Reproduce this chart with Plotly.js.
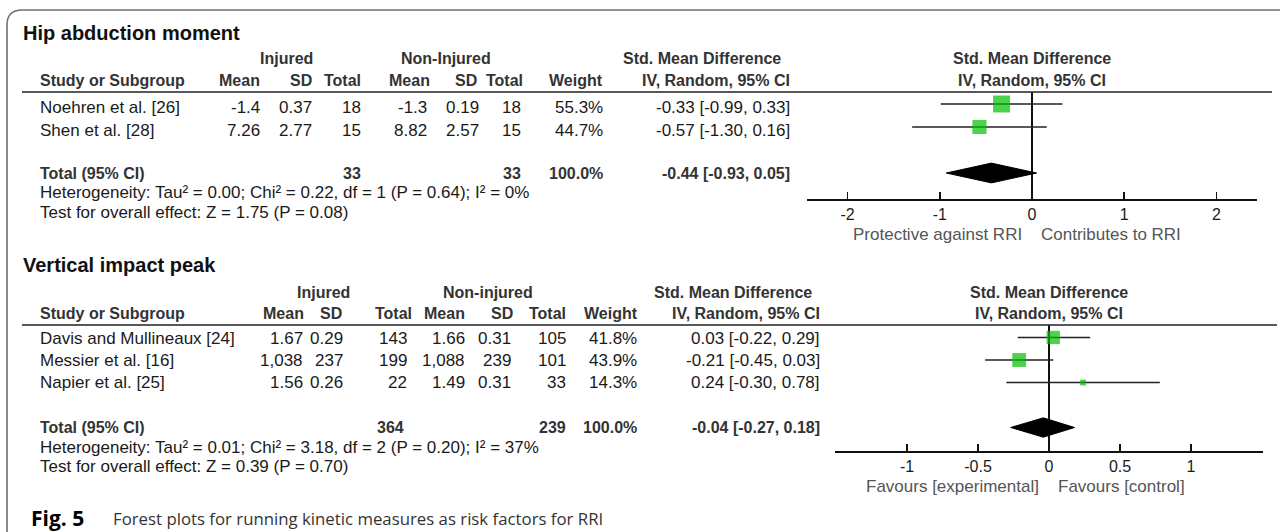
<!DOCTYPE html>
<html>
<head>
<meta charset="utf-8">
<script src="https://cdn.plot.ly/plotly-3.0.1.min.js"></script>
<style>html,body{margin:0;padding:0;background:#fff;}#chart{width:1280px;height:532px;}</style>
</head>
<body>
<div id="chart"></div>
<script>
// ---------- DATA : Hip abduction moment ----------
const title1 = "Hip abduction moment";
const studies1 = ["Noehren et al. [26]", "Shen et al. [28]"];
const injMean1 = [-1.4, 7.26];
const injSD1 = [0.37, 2.77];
const injN1 = [18, 15];
const nonMean1 = [-1.3, 8.82];
const nonSD1 = [0.19, 2.57];
const nonN1 = [18, 15];
const weight1 = [55.3, 44.7];
const smd1 = [-0.33, -0.57];
const lo1 = [-0.99, -1.30];
const hi1 = [0.33, 0.16];
const total1 = [33, 33];            // injured N, non-injured N
const totalCI1 = [-0.44, -0.93, 0.05]; // estimate, low, high
const het1 = "Heterogeneity: Tau² = 0.00; Chi² = 0.22, df = 1 (P = 0.64); I² = 0%";
const test1 = "Test for overall effect: Z = 1.75 (P = 0.08)";
const groups1 = ["Injured", "Non-Injured"];
const ticks1 = [-2, -1, 0, 1, 2];
const tickText1 = ["-2", "-1", "0", "1", "2"];
const favour1 = ["Protective against RRI", "Contributes to RRI"];

// ---------- DATA : Vertical impact peak ----------
const title2 = "Vertical impact peak";
const studies2 = ["Davis and Mullineaux [24]", "Messier et al. [16]", "Napier et al. [25]"];
const injMean2 = [1.67, 1038, 1.56];
const injSD2 = [0.29, 237, 0.26];
const injN2 = [143, 199, 22];
const nonMean2 = [1.66, 1088, 1.49];
const nonSD2 = [0.31, 239, 0.31];
const nonN2 = [105, 101, 33];
const weight2 = [41.8, 43.9, 14.3];
const smd2 = [0.03, -0.21, 0.24];
const lo2 = [-0.22, -0.45, -0.30];
const hi2 = [0.29, 0.03, 0.78];
const total2 = [364, 239];
const totalCI2 = [-0.04, -0.27, 0.18];
const het2 = "Heterogeneity: Tau² = 0.01; Chi² = 3.18, df = 2 (P = 0.20); I² = 37%";
const test2 = "Test for overall effect: Z = 0.39 (P = 0.70)";
const groups2 = ["Injured", "Non-injured"];
const ticks2 = [-1, -0.5, 0, 0.5, 1];
const tickText2 = ["-1", "-0.5", "0", "0.5", "1"];
const favour2 = ["Favours [experimental]", "Favours [control]"];

const captionBold = "Fig. 5";
const captionText = "Forest plots for running kinetic measures as risk factors for RRI";

// ---------- helpers ----------
const W = 1280, H = 532;
const FONT = "Liberation Sans, Arial, sans-serif";
const px = x => x / W;
const py = y => 1 - y / H;
const fmt = v => Math.abs(v) >= 1000 ? v.toLocaleString('en-US') : String(v);
const ci = (e, l, h) => e.toFixed(2) + " [" + l.toFixed(2) + ", " + h.toFixed(2) + "]";
const ann = [];
function T(x, y, text, anchor, size, color, bold, family) {
  ann.push({xref: 'paper', yref: 'paper', x: px(x), y: py(y), text: bold ? '<b>' + text + '</b>' : text,
    xanchor: anchor, yanchor: 'middle', showarrow: false, borderpad: 0,
    font: {family: family || FONT, size: size, color: color}});
}
const BODY = 17, HEAD = 16, HC = '#333', BC = '#1a1a1a';

// table builder
function table(cfg) {
  const c = cfg.cols;
  T(22, cfg.yTitle, cfg.title, 'left', 20, '#111', true);
  T(c.g1, cfg.yGroup, cfg.groups[0], 'center', HEAD, HC, true);
  T(c.g2, cfg.yGroup, cfg.groups[1], 'center', HEAD, HC, true);
  T(c.smdHead, cfg.yGroup, "Std. Mean Difference", 'right', HEAD, HC, true);
  T(c.plotC, cfg.yGroup, "Std. Mean Difference", 'center', HEAD, HC, true);
  T(39, cfg.yHead, "Study or Subgroup", 'left', HEAD, HC, true);
  T(c.hm1, cfg.yHead, "Mean", 'right', HEAD, HC, true);
  T(c.hs1, cfg.yHead, "SD", 'right', HEAD, HC, true);
  T(c.hn1, cfg.yHead, "Total", 'right', HEAD, HC, true);
  T(c.hm2, cfg.yHead, "Mean", 'right', HEAD, HC, true);
  T(c.hs2, cfg.yHead, "SD", 'right', HEAD, HC, true);
  T(c.hn2, cfg.yHead, "Total", 'right', HEAD, HC, true);
  T(c.hw, cfg.yHead, "Weight", 'right', HEAD, HC, true);
  T(c.hci, cfg.yHead, "IV, Random, 95% CI", 'right', HEAD, HC, true);
  T(c.plotC, cfg.yHead, "IV, Random, 95% CI", 'center', HEAD, HC, true);
  cfg.studies.forEach((s, i) => {
    const y = cfg.yRows[i];
    T(39, y, s, 'left', BODY, BC);
    T(c.m1, y, fmt(cfg.injMean[i]), 'right', BODY, BC);
    T(c.s1, y, fmt(cfg.injSD[i]), 'right', BODY, BC);
    T(c.n1, y, fmt(cfg.injN[i]), 'right', BODY, BC);
    T(c.m2, y, fmt(cfg.nonMean[i]), 'right', BODY, BC);
    T(c.s2, y, fmt(cfg.nonSD[i]), 'right', BODY, BC);
    T(c.n2, y, fmt(cfg.nonN[i]), 'right', BODY, BC);
    T(c.w, y, cfg.weight[i].toFixed(1) + "%", 'right', BODY, BC);
    T(c.ci, y, ci(cfg.smd[i], cfg.lo[i], cfg.hi[i]), 'right', BODY, BC);
  });
  const yt = cfg.yTotal;
  T(39, yt, "Total (95% CI)", 'left', HEAD, HC, true);
  T(c.tn1, yt, String(cfg.total[0]), 'right', HEAD, HC, true);
  T(c.n2, yt, String(cfg.total[1]), 'right', HEAD, HC, true);
  T(c.w, yt, (cfg.weight.reduce((a, b) => a + b, 0)).toFixed(1) + "%", 'right', HEAD, HC, true);
  T(c.ci, yt, ci(cfg.totalCI[0], cfg.totalCI[1], cfg.totalCI[2]), 'right', HEAD, HC, true);
  T(39, cfg.yHet, cfg.het, 'left', BODY, BC);
  T(39, cfg.yTest, cfg.test, 'left', BODY, BC);
  T(cfg.zeroPx - 9, cfg.yFav, cfg.favour[0], 'right', BODY, '#555');
  T(cfg.zeroPx + 8, cfg.yFav, cfg.favour[1], 'left', BODY, '#555');
}

table({title: title1, groups: groups1, studies: studies1, injMean: injMean1, injSD: injSD1, injN: injN1,
  nonMean: nonMean1, nonSD: nonSD1, nonN: nonN1, weight: weight1, smd: smd1, lo: lo1, hi: hi1,
  total: total1, totalCI: totalCI1, het: het1, test: test1, favour: favour1, zeroPx: 1032,
  yTitle: 33, yGroup: 59, yHead: 81, yRows: [108, 130], yTotal: 173, yHet: 192, yTest: 212, yFav: 234,
  cols: {g1: 286, g2: 446, smdHead: 782, plotC: 1032, hm1: 261, hs1: 313, hn1: 362, hm2: 431, hs2: 478, hn2: 524, hw: 604, hci: 791,
    m1: 261, s1: 313, n1: 362, m2: 428, s2: 480, n2: 522, w: 604, ci: 791, tn1: 362}});

table({title: title2, groups: groups2, studies: studies2, injMean: injMean2, injSD: injSD2, injN: injN2,
  nonMean: nonMean2, nonSD: nonSD2, nonN: nonN2, weight: weight2, smd: smd2, lo: lo2, hi: hi2,
  total: total2, totalCI: totalCI2, het: het2, test: test2, favour: favour2, zeroPx: 1049,
  yTitle: 265, yGroup: 292, yHead: 313, yRows: [338, 360, 382], yTotal: 427, yHet: 447, yTest: 466, yFav: 486,
  cols: {g1: 323, g2: 488, smdHead: 813, plotC: 1049, hm1: 305, hs1: 343, hn1: 413, hm2: 466, hs2: 514, hn2: 567, hw: 639, hci: 821,
    m1: 304, s1: 344, n1: 408, m2: 466, s2: 512, n2: 567, w: 638, ci: 821, tn1: 405}});

T(30, 518, captionBold, 'left', 21, '#000', true, "Open Sans, Noto Sans, sans-serif");
T(112, 518, captionText, 'left', 16.8, '#333', false, "Open Sans, Noto Sans, sans-serif");

// ---------- forest traces ----------
const GREEN = '#00bf00';
function forest(xa, ya, smd, lo, hi, weight, tot, totalRow) {
  const rows = smd.map((_, i) => i + 1);
  const lx = [], ly = [];
  rows.forEach((r, i) => { lx.push(lo[i], hi[i], null); ly.push(r, r, null); });
  const d = 0.43;
  return [
    {type: 'scatter', mode: 'lines', x: lx, y: ly, xaxis: xa, yaxis: ya, hoverinfo: 'skip',
      line: {color: '#222', width: 1.3}, showlegend: false},
    {type: 'scatter', mode: 'markers', x: smd, y: rows, xaxis: xa, yaxis: ya,
      marker: {symbol: 'square', color: GREEN, size: weight.map(w => 2 + 0.27 * w), line: {width: 0}}, showlegend: false},
    {type: 'scatter', mode: 'lines', x: [tot[1], tot[0], tot[2], tot[0], tot[1]],
      y: [totalRow, totalRow - d, totalRow, totalRow + d, totalRow], xaxis: xa, yaxis: ya,
      fill: 'toself', fillcolor: '#000', line: {color: '#000', width: 1}, showlegend: false}
  ];
}
const data = [].concat(
  forest('x', 'y', smd1, lo1, hi1, weight1, totalCI1, studies1.length + 2),
  forest('x2', 'y2', smd2, lo2, hi2, weight2, totalCI2, studies2.length + 2)
);

function xax(dom, range, tv, tt) {
  return {domain: dom, range: range, tickvals: tv, ticktext: tt, ticks: 'inside', ticklen: 7, tickwidth: 1.5,
    tickcolor: '#111', showline: true, linecolor: '#111', linewidth: 1.5, zeroline: true, zerolinecolor: '#111',
    zerolinewidth: 1.5, showgrid: false, fixedrange: true, tickfont: {family: FONT, size: 16, color: '#1a1a1a'},
    ticklabelstandoff: 0};
}
function yax(dom, range, anchor) {
  return {domain: dom, range: range, visible: false, fixedrange: true, anchor: anchor};
}

const shapes = [
  // outer frame with rounded corner
  {type: 'path', xref: 'paper', yref: 'paper',
    path: `M${px(7)},${py(532)} L${px(7)},${py(25)} Q${px(7)},${py(10)} ${px(22)},${py(10)} L${px(1280)},${py(10)}`,
    line: {color: '#707070', width: 1.6}},
  {type: 'line', xref: 'paper', yref: 'paper', x0: px(22), x1: px(1272), y0: py(92), y1: py(92), line: {color: '#222', width: 1.5}},
  {type: 'line', xref: 'paper', yref: 'paper', x0: px(22), x1: px(1277), y0: py(325), y1: py(325), line: {color: '#222', width: 1.5}}
];

const layout = {
  width: W, height: H, margin: {l: 0, r: 0, t: 0, b: 0}, paper_bgcolor: '#fff', plot_bgcolor: 'rgba(0,0,0,0)',
  showlegend: false,
  xaxis: Object.assign(xax([px(807), px(1257)], [-2.44, 2.44], ticks1, tickText1), {anchor: 'y'}),
  yaxis: yax([py(199), py(92)], [(199 - 81) / 23, (92 - 81) / 23], 'x'),
  xaxis2: Object.assign(xax([px(835), px(1263)], [-1.507, 1.507], ticks2, tickText2), {anchor: 'y2'}),
  yaxis2: yax([py(451), py(325)], [(451 - 315) / 22.5, (325 - 315) / 22.5], 'x2'),
  annotations: ann, shapes: shapes
};
Plotly.newPlot('chart', data, layout, {displayModeBar: false, staticPlot: true});
</script>
</body>
</html>
